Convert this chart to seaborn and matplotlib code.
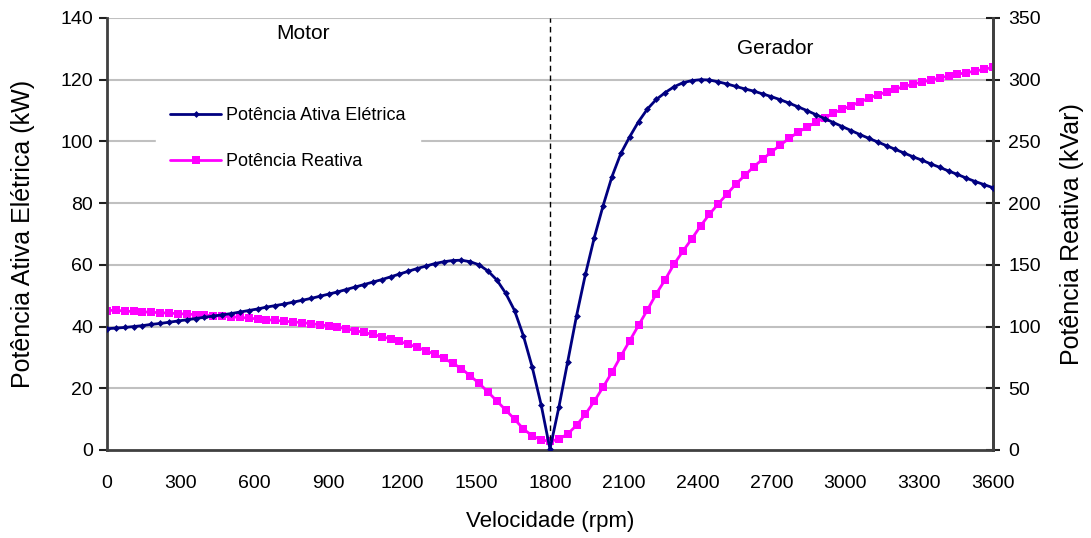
import numpy as np
import pandas as pd
import seaborn as sns
import matplotlib
matplotlib.use("Agg")
import matplotlib.pyplot as plt
from matplotlib import font_manager

# speed axis: 101 points, 36 rpm apart
velocidade = np.arange(0, 3601, 36)

# active electrical power (kW)
potencia_ativa = [
    39.3, 39.5, 39.7, 40.0, 40.3, 40.7, 41.0, 41.4, 41.8, 42.2,
    42.6, 43.0, 43.4, 43.8, 44.2, 44.7, 45.2, 45.7, 46.3, 46.8,
    47.3, 47.9, 48.5, 49.1, 49.8, 50.5, 51.2, 52.0, 52.8, 53.6,
    54.4, 55.2, 56.1, 57.0, 57.9, 58.8, 59.6, 60.4, 61.0, 61.4,
    61.5, 61.0, 60.0, 58.0, 55.1, 50.8, 45.2, 37.0, 26.8, 14.7,
    0.3, 13.8, 28.6, 43.5, 56.9, 68.8, 79.2, 88.6, 96.1, 101.5,
    106.4, 110.5, 113.6, 115.8, 117.7, 119.0, 119.7, 120.0, 119.9, 119.3,
    118.6, 117.8, 117.0, 116.3, 115.4, 114.5, 113.5, 112.4, 111.2, 110.0,
    108.7, 107.4, 106.1, 104.8, 103.5, 102.2, 101.0, 99.8, 98.6, 97.4,
    96.2, 95.0, 93.9, 92.7, 91.6, 90.4, 89.3, 88.1, 87.0, 86.0,
    85.0,
]

# reactive power (kVar)
potencia_reativa = [
    113.0, 113.2, 112.5, 112.2, 111.9, 111.6, 111.2, 110.9, 110.5, 110.1,
    109.7, 109.3, 108.8, 108.4, 107.9, 107.4, 106.8, 106.2, 105.6, 105.0,
    104.3, 103.8, 103.2, 102.4, 101.5, 100.6, 99.5, 98.2, 96.8, 95.2,
    93.6, 91.9, 90.0, 87.9, 85.7, 83.2, 80.5, 77.5, 74.2, 70.4,
    66.0, 60.0, 54.0, 47.0, 39.7, 32.4, 25.0, 17.0, 11.5, 8.2,
    7.0, 8.7, 13.0, 20.0, 29.0, 39.5, 51.0, 63.0, 76.0, 88.5,
    101.0, 113.5, 126.5, 138.0, 150.5, 161.0, 171.0, 181.5, 191.0, 199.5,
    207.5, 215.5, 222.5, 229.5, 235.5, 241.5, 247.0, 252.5, 257.5, 261.5,
    265.5, 269.0, 273.0, 276.0, 279.0, 282.0, 285.0, 287.8, 290.0, 292.3,
    294.5, 296.5, 298.0, 299.8, 301.4, 303.0, 304.4, 305.7, 307.0, 308.4,
    310.0,
]

df = pd.DataFrame({"vel": velocidade, "ativa": potencia_ativa, "reativa": potencia_reativa})

sns.set_theme(style="white")
names = {f.name for f in font_manager.fontManager.ttflist}
base_font = "Liberation Sans" if "Liberation Sans" in names else "DejaVu Sans"
narrow_font = "Liberation Sans Narrow" if "Liberation Sans Narrow" in names else base_font
plt.rcParams["font.family"] = [base_font, "DejaVu Sans"]
plt.rcParams["text.color"] = "black"
plt.rcParams["axes.labelcolor"] = "black"
plt.rcParams["xtick.color"] = "black"
plt.rcParams["ytick.color"] = "black"

fig = plt.figure(figsize=(10.91, 5.38), dpi=100)
ax = fig.add_axes([0.0981, 0.1636, 0.812, 0.803])
ax2 = ax.twinx()

blue = "#000080"
magenta = "#FF00FF"

sns.lineplot(data=df, x="vel", y="ativa", ax=ax, color=blue, linewidth=2,
             marker="D", markersize=3.5, markeredgewidth=0, label="Potência Ativa Elétrica",
             legend=False, zorder=3)
sns.lineplot(data=df, x="vel", y="reativa", ax=ax2, color=magenta, linewidth=2,
             marker="s", markersize=5.5, markeredgewidth=0, label="Potência Reativa",
             legend=False, zorder=3)

ax.set_xlim(0, 3600)
ax.set_ylim(0, 140)
ax2.set_ylim(0, 350)
ax.set_xticks(np.arange(0, 3601, 300))
ax.set_yticks(np.arange(0, 141, 20))
ax2.set_yticks(np.arange(0, 351, 50))

# horizontal grid, drawn on the back axes so both curves sit over it
for v in np.arange(50, 351, 50):
    ax2.axhline(v, color="#c0c0c0", linewidth=1.5, zorder=0)

# motor / generator split
ax.axvline(1800, color="black", linestyle=(0, (4, 3)), linewidth=1, zorder=2)

for a in (ax, ax2):
    a.spines["top"].set_visible(False)
    for s in ("left", "bottom", "right"):
        a.spines[s].set_color("#404040")
        a.spines[s].set_linewidth(2)
ax2.spines["left"].set_visible(False)
ax2.spines["bottom"].set_visible(False)

ax.tick_params(axis="both", direction="out", length=6, width=1.5, color="#202020",
               labelsize=14, pad=4)
ax.tick_params(axis="x", pad=12)
ax2.tick_params(axis="y", direction="inout", length=10, width=1.5, color="#202020",
                labelsize=14, pad=6)
for lab in ax.get_xticklabels() + ax.get_yticklabels() + ax2.get_yticklabels():
    lab.set_fontfamily(narrow_font)

ax.set_xlabel("Velocidade (rpm)", fontsize=16, labelpad=14)
ax.set_ylabel("Potência Ativa Elétrica (kW)", fontsize=18, labelpad=18)
ax2.set_ylabel("Potência Reativa (kVar)", fontsize=18, labelpad=14)

ax.text(796, 135, "Motor", fontsize=15, ha="center", va="center")
ax.text(2714, 130, "Gerador", fontsize=15, ha="center", va="center")

h1, l1 = ax.get_legend_handles_labels()
h2, l2 = ax2.get_legend_handles_labels()
leg = ax.legend(h1 + h2, l1 + l2, loc="upper left", bbox_to_anchor=(0.045, 0.848),
                fontsize=13, frameon=True, facecolor="white", edgecolor="white",
                framealpha=1, handlelength=2.8, labelspacing=1.6, borderpad=0.8,
                handletextpad=0.3)
leg.set_zorder(5)
ax.set_zorder(ax2.get_zorder() + 1)
ax.patch.set_visible(False)

fig.savefig("out.png", dpi=100)
